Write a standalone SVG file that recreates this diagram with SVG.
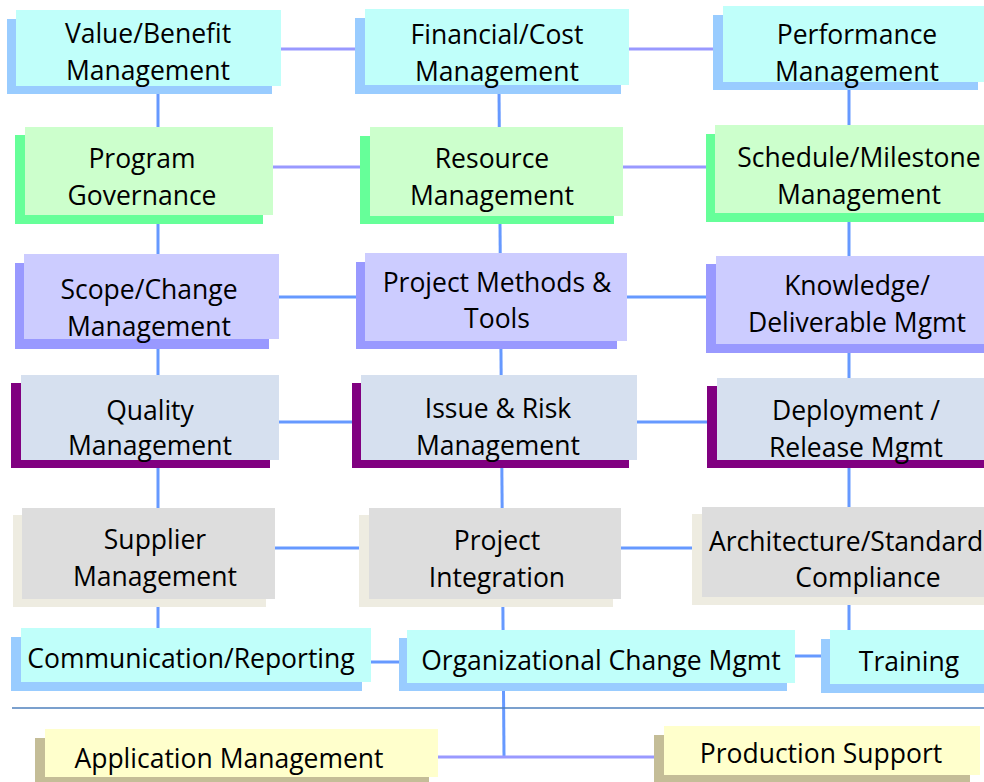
<svg xmlns="http://www.w3.org/2000/svg" width="984" height="782" viewBox="0 0 984 782">
<style>
text{font-family:"Open Sans","Noto Sans",sans-serif;font-size:26.5px;fill:#000;text-anchor:middle}
.cv{stroke:#6699FF;stroke-width:3;fill:none}
.cl{stroke:#9999FF;stroke-width:3;fill:none}
.cyF{fill:#C0FFFA}.cyS{fill:#99CCFF}
.grF{fill:#CCFFCC}.grS{fill:#66FF99}
.lvF{fill:#CCCCFF}.lvS{fill:#9999FF}
.bgF{fill:#D6E0EF}.bgS{fill:#800080}
.gyF{fill:#DDDDDD}.gyS{fill:#EEECE1}
.ywF{fill:#FFFFCC}.ywS{fill:#C4BD97}
</style>
<rect width="984" height="782" fill="#FFFFFF"/>
<g id="connectors">
<line class="cv" x1="158" y1="90" x2="158" y2="630"/>
<line class="cv" x1="499" y1="90" x2="504" y2="756"/>
<line class="cv" x1="849" y1="88" x2="849" y2="632"/>
<line class="cl" x1="272" y1="49" x2="365" y2="49"/>
<line class="cl" x1="621" y1="49" x2="723" y2="49"/>
<line class="cl" x1="263" y1="167" x2="370" y2="167"/>
<line class="cl" x1="614" y1="167" x2="715" y2="167"/>
<line class="cv" x1="269" y1="297" x2="365" y2="297"/>
<line class="cv" x1="617" y1="297" x2="716" y2="297"/>
<line class="cv" x1="270" y1="422" x2="361" y2="422"/>
<line class="cv" x1="629" y1="422" x2="717" y2="422"/>
<line class="cv" x1="266" y1="548" x2="369" y2="548"/>
<line class="cv" x1="613" y1="548" x2="702" y2="548"/>
<line class="cv" x1="362" y1="662" x2="407" y2="662"/>
<line class="cv" x1="787" y1="656" x2="830" y2="656"/>
<line class="cl" x1="429" y1="757" x2="664" y2="757"/>
<line x1="12" y1="708" x2="984" y2="708" stroke="#4F81BD" stroke-width="1.5"/>
</g>
<g id="value-benefit"><rect class="cyS" x="7" y="19" width="265" height="75"/><rect class="cyF" x="16" y="10" width="265" height="76"/><text x="148" y="43">Value/Benefit</text><text x="148" y="80">Management</text></g>
<g id="financial-cost"><rect class="cyS" x="355" y="18" width="266" height="76"/><rect class="cyF" x="365" y="9" width="264" height="76"/><text x="497" y="44">Financial/Cost</text><text x="497" y="81">Management</text></g>
<g id="performance"><rect class="cyS" x="713" y="15" width="265" height="75"/><rect class="cyF" x="723" y="6" width="270" height="76"/><text x="857" y="44">Performance</text><text x="857" y="81">Management</text></g>
<g id="program-governance"><rect class="grS" x="15" y="135" width="248" height="89"/><rect class="grF" x="25" y="127" width="248" height="88"/><text x="142" y="168">Program</text><text x="142" y="205">Governance</text></g>
<g id="resource"><rect class="grS" x="360" y="136" width="254" height="88"/><rect class="grF" x="370" y="127" width="253" height="89"/><text x="492" y="168">Resource</text><text x="492" y="205">Management</text></g>
<g id="schedule"><rect class="grS" x="706" y="134" width="290" height="88"/><rect class="grF" x="715" y="125" width="280" height="88"/><text x="859" y="167">Schedule/Milestone</text><text x="859" y="204">Management</text></g>
<g id="scope-change"><rect class="lvS" x="15" y="263" width="254" height="86"/><rect class="lvF" x="24" y="254" width="255" height="85"/><text x="149" y="299">Scope/Change</text><text x="149" y="336">Management</text></g>
<g id="methods-tools"><rect class="lvS" x="356" y="262" width="261" height="87"/><rect class="lvF" x="365" y="253" width="262" height="88"/><text x="497" y="292">Project Methods &amp;</text><text x="497" y="328">Tools</text></g>
<g id="knowledge"><rect class="lvS" x="706" y="264" width="290" height="89"/><rect class="lvF" x="716" y="256" width="280" height="88"/><text x="857" y="295">Knowledge/</text><text x="857" y="332">Deliverable Mgmt</text></g>
<g id="quality"><rect class="bgS" x="11" y="383" width="259" height="85"/><rect class="bgF" x="21" y="375" width="258" height="85"/><text x="150" y="420">Quality</text><text x="150" y="455">Management</text></g>
<g id="issue-risk"><rect class="bgS" x="352" y="383" width="277" height="85"/><rect class="bgF" x="361" y="375" width="276" height="85"/><text x="498" y="418">Issue &amp; Risk</text><text x="498" y="455">Management</text></g>
<g id="deployment"><rect class="bgS" x="707" y="386" width="290" height="82"/><rect class="bgF" x="717" y="378" width="280" height="82"/><text x="856" y="420">Deployment /</text><text x="856" y="457">Release Mgmt</text></g>
<g id="supplier"><rect class="gyS" x="13" y="515" width="253" height="92"/><rect class="gyF" x="22" y="508" width="253" height="91"/><text x="155" y="549">Supplier</text><text x="155" y="586">Management</text></g>
<g id="integration"><rect class="gyS" x="359" y="515" width="254" height="92"/><rect class="gyF" x="369" y="508" width="252" height="91"/><text x="497" y="550">Project</text><text x="497" y="587">Integration</text></g>
<g id="architecture"><rect class="gyS" x="692" y="514" width="300" height="91"/><rect class="gyF" x="702" y="507" width="290" height="90"/><text x="709" y="551" style="text-anchor:start">Architecture/Standard</text><text x="868" y="587">Compliance</text></g>
<g id="communication"><rect class="cyS" x="11" y="637" width="351" height="54"/><rect class="cyF" x="21" y="628" width="350" height="54"/><text x="191" y="668">Communication/Reporting</text></g>
<g id="org-change"><rect class="cyS" x="399" y="638" width="388" height="53"/><rect class="cyF" x="407" y="630" width="388" height="53"/><text x="601" y="670">Organizational Change Mgmt</text></g>
<g id="training"><rect class="cyS" x="821" y="639" width="175" height="54"/><rect class="cyF" x="830" y="630" width="166" height="54"/><text x="909" y="671">Training</text></g>
<g id="application"><rect class="ywS" x="35" y="738" width="394" height="50"/><rect class="ywF" x="45" y="729" width="393" height="48"/><text x="229" y="768">Application Management</text></g>
<g id="production"><rect class="ywS" x="654" y="735" width="316" height="50"/><rect class="ywF" x="664" y="726" width="316" height="49"/><text x="821" y="763">Production Support</text></g>
</svg>
